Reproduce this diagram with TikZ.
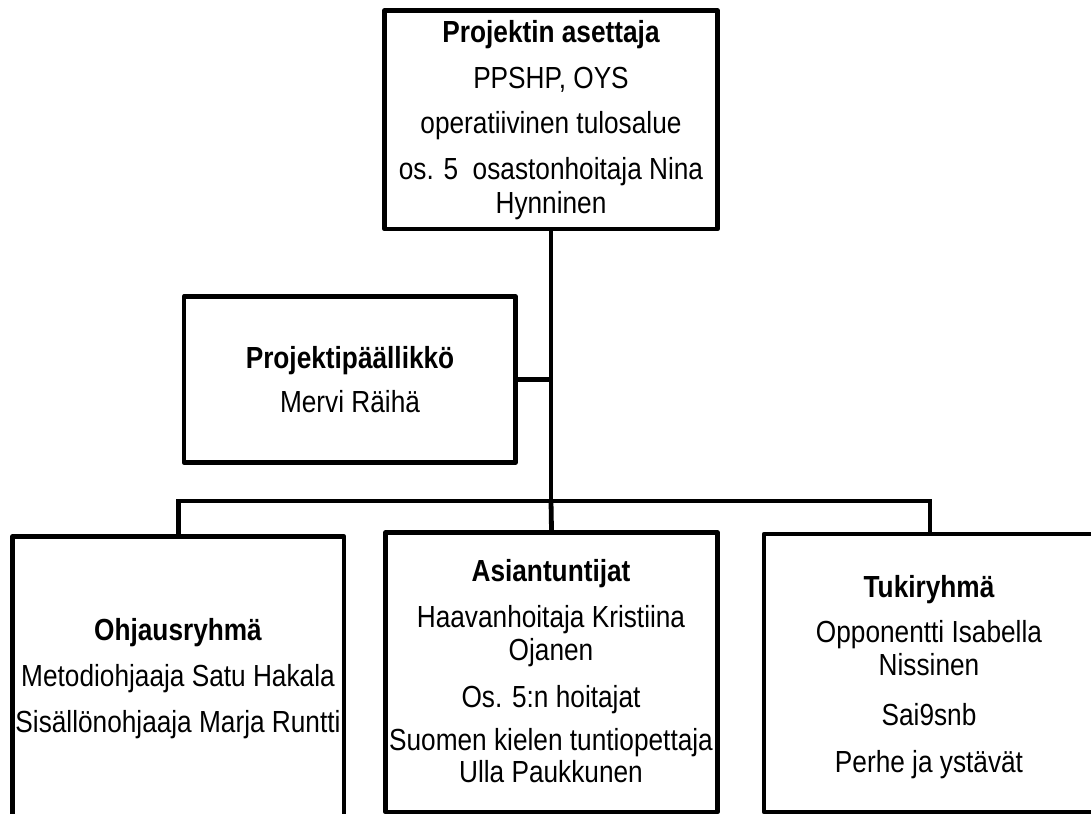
\documentclass[tikz,border=0pt]{standalone}
\usepackage{fontspec}
\setmainfont{Liberation Sans}[FakeStretch=0.86]
\begin{document}
\begin{tikzpicture}[x=1pt,y=-1pt,
  box/.style={draw=black, line width=4.8pt, line join=round, fill=white,
    inner sep=0pt},
  txt/.style={anchor=base, inner sep=0pt, font=\fontsize{30.5}{33}\selectfont},
  btxt/.style={txt, font=\fontsize{30.5}{33}\selectfont\bfseries},
  conn/.style={draw=black, line width=4.8pt}]
\useasboundingbox (0,0) rectangle (1091,813);
\clip (0,0) rectangle (1091,813);
% boxes
\node[box, minimum width=332.5pt, minimum height=218.5pt] (top) at (551,119.75) {};
\node[box, minimum width=331.5pt, minimum height=166pt] (pm) at (349.75,379.5) {};
\node[box, minimum width=331.5pt, minimum height=280pt] (b1) at (178.25,676.5) {};
\node[box, minimum width=332pt, minimum height=279.5pt] (b2) at (551.5,672.25) {};
\node[box, minimum width=332pt, minimum height=278pt] (b3) at (930,673) {};
% connectors
\coordinate (bus) at (551,501);
\draw[conn] (top.south) -- (bus);
\draw[conn] (pm.east) -- (pm.east -| bus);
\draw[conn] (b1.north) |- (bus) -| (b3.north);
\draw[conn] (bus) -- (b2.north);
% texts: top box
\node[btxt] (t1) at (551,43) {Projektin asettaja};
\node[txt] (t2) at (551,89) {PPSHP, OYS};
\node[txt] (t3) at (551,134) {operatiivinen tulosalue};
\node[txt] (t4) at (551,179) {os. 5\ \ osastonhoitaja Nina};
\node[txt] (t5) at (551,213) {Hynninen};
% project manager
\node[btxt] (p1) at (350,368) {Projektipäällikkö};
\node[txt] (p2) at (350,412) {Mervi Räihä};
% left bottom
\node[btxt] (l1) at (178,640) {Ohjausryhmä};
\node[txt] (l2) at (178,686) {Metodiohjaaja Satu Hakala};
\node[txt] (l3) at (178,732) {Sisällönohjaaja Marja Runtti};
% middle bottom
\node[btxt] (m1) at (551,581) {Asiantuntijat};
\node[txt] (m2) at (551,627) {Haavanhoitaja Kristiina};
\node[txt] (m3) at (551,660) {Ojanen};
\node[txt] (m4) at (551,707) {Os. 5:n hoitajat};
\node[txt] (m5) at (551,750) {Suomen kielen tuntiopettaja};
\node[txt] (m6) at (551,782) {Ulla Paukkunen};
% right bottom
\node[btxt] (r1) at (929,597) {Tukiryhmä};
\node[txt] (r2) at (929,642) {Opponentti Isabella};
\node[txt] (r3) at (929,675) {Nissinen};
\node[txt] (r4) at (929,725) {Sai9snb};
\node[txt] (r5) at (929,772) {Perhe ja ystävät};
\end{tikzpicture}
\end{document}
